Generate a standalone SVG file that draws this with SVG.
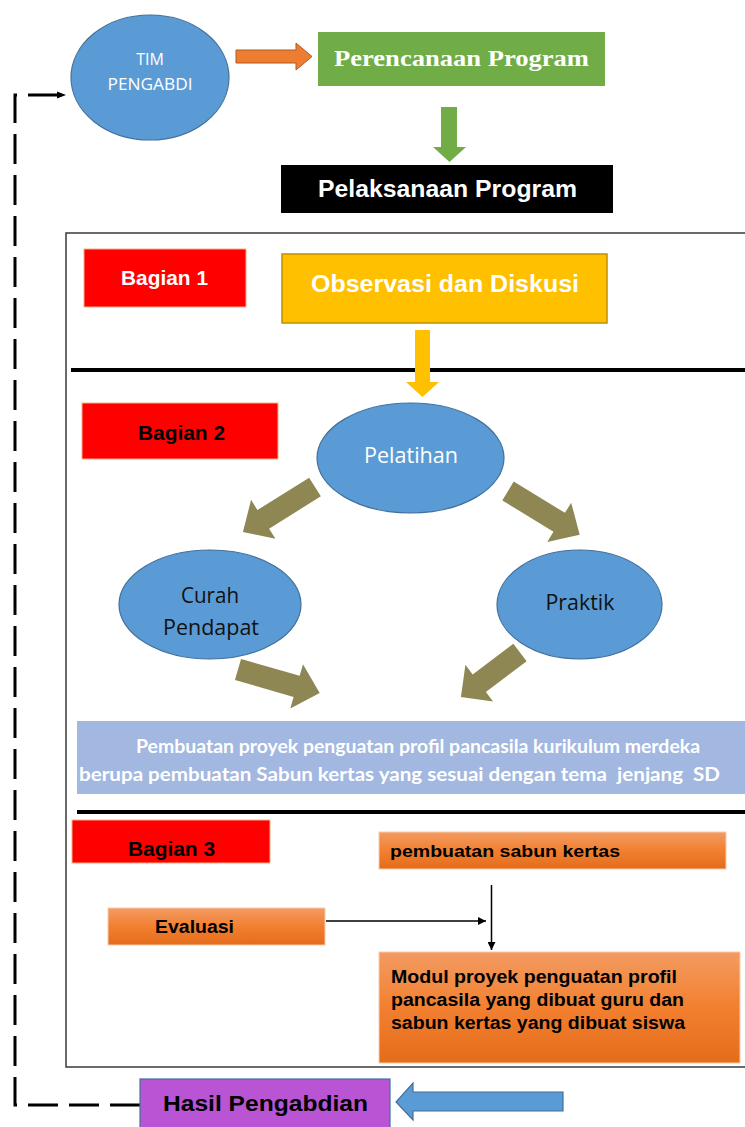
<svg xmlns="http://www.w3.org/2000/svg" width="745" height="1127" viewBox="0 0 745 1127">
<style>
.ar{font-family:"Liberation Sans",Arial,sans-serif;font-weight:bold}
.ca{font-family:Lato,"Liberation Sans",sans-serif}
.os{font-family:"Open Sans","Noto Sans",sans-serif}
.se{font-family:"Liberation Serif","Times New Roman",serif;font-weight:bold}
.wh{fill:#ffffff}
.bk{fill:#000000}
.ell{fill:#5B9BD5;stroke:#41719C;stroke-width:1.2}
.red{fill:#FF0000;stroke:#F4B183;stroke-width:1}
.org{fill:url(#og);stroke:#F8CBAD;stroke-width:1}
.olive{fill:#8F8753}
.thin{stroke:#000;stroke-width:1.5;fill:none}
</style>
<defs>
<linearGradient id="og" x1="0" y1="0" x2="0" y2="1">
<stop offset="0" stop-color="#F39B62"/>
<stop offset="0.5" stop-color="#F28030"/>
<stop offset="1" stop-color="#E46C1B"/>
</linearGradient>
<marker id="ah" viewBox="0 0 10 10" refX="10" refY="5" markerWidth="8" markerHeight="8" markerUnits="userSpaceOnUse" orient="auto">
<path d="M0,0 L10,5 L0,10 z" fill="#000"/>
</marker>
<marker id="ahd" viewBox="0 0 10 10" refX="10" refY="5" markerWidth="9" markerHeight="9" markerUnits="userSpaceOnUse" orient="auto">
<path d="M0,1 L10,5 L0,9 z" fill="#000"/>
</marker>
</defs>

<!-- container -->
<rect x="66" y="233" width="720" height="834" fill="none" stroke="#3A3A3A" stroke-width="1.5"/>
<line x1="71" y1="370" x2="745" y2="370" stroke="#000" stroke-width="4"/>
<line x1="77" y1="812" x2="745" y2="812" stroke="#000" stroke-width="4"/>

<g id="connectors">
<polygon points="236,50 296,50 296,43 312,56.5 296,70 296,63 236,63" fill="#ED7D31" stroke="#AE5A21" stroke-width="1"/>
<polygon points="441,107 457,107 457,147 466,147 449.5,162 433,147 441,147" fill="#70AD47"/>
<polygon points="415,330 430,330 430,382 439,382 422.5,397 406,382 415,382" fill="#FFC000"/>
<polygon class="olive" transform="translate(315,487) rotate(148)" points="0,-11 61,-11 61,-23 85,0 61,23 61,11 0,11"/>
<polygon class="olive" transform="translate(508,491) rotate(31.4)" points="0,-11 60,-11 60,-23 84,0 60,23 60,11 0,11"/>
<polygon class="olive" transform="translate(238,669.5) rotate(16)" points="0,-11 61,-11 61,-23 85,0 61,23 61,11 0,11"/>
<polygon class="olive" transform="translate(520,652.5) rotate(143)" points="0,-11 51,-11 51,-23 74,0 51,23 51,11 0,11"/>
<line class="thin" x1="326" y1="921" x2="486" y2="921" marker-end="url(#ah)"/>
<line class="thin" x1="491.5" y1="885" x2="491.5" y2="950" marker-end="url(#ah)"/>
<polygon points="563,1092 413,1092 413,1083 396,1102 413,1120 413,1111 563,1111" fill="#5B9BD5" stroke="#41719C" stroke-width="1.2"/>
<path d="M140,1105 H15 V95 H66" fill="none" stroke="#000" stroke-width="3" stroke-dasharray="30 11" marker-end="url(#ahd)"/>
</g>

<g id="tim">
<ellipse class="ell" cx="150" cy="77.5" rx="79" ry="62.5"/>
<text class="os wh" x="150" y="65" font-size="16" text-anchor="middle">TIM</text>
<text class="os wh" x="150" y="90" font-size="16" text-anchor="middle" textLength="85" lengthAdjust="spacingAndGlyphs">PENGABDI</text>
</g>

<g id="perencanaan">
<rect x="318" y="32" width="287" height="54" fill="#70AD47"/>
<text class="se wh" x="334" y="66" font-size="24" textLength="255" lengthAdjust="spacingAndGlyphs">Perencanaan Program</text>
</g>

<g id="pelaksanaan">
<rect x="281" y="165" width="332" height="48" fill="#000"/>
<text class="ar wh" x="318" y="197" font-size="23" textLength="259" lengthAdjust="spacingAndGlyphs">Pelaksanaan Program</text>
</g>

<g id="bagian1">
<rect class="red" x="84" y="249" width="162" height="58"/>
<text class="ar wh" x="121" y="285" font-size="20" textLength="87" lengthAdjust="spacingAndGlyphs">Bagian 1</text>
</g>

<g id="observasi">
<rect x="282" y="254" width="325" height="69" fill="#FFC000" stroke="#BF9000" stroke-width="1.5"/>
<text class="ar wh" x="311" y="292" font-size="23" textLength="268" lengthAdjust="spacingAndGlyphs">Observasi dan Diskusi</text>
</g>

<g id="bagian2">
<rect class="red" x="82" y="403" width="196" height="56"/>
<text class="ar bk" x="138" y="440" font-size="20" textLength="87" lengthAdjust="spacingAndGlyphs">Bagian 2</text>
</g>

<g id="pelatihan">
<ellipse class="ell" cx="410.5" cy="458" rx="93.5" ry="55"/>
<text class="os wh" x="411" y="463" font-size="21" text-anchor="middle" textLength="94" lengthAdjust="spacingAndGlyphs">Pelatihan</text>
</g>

<g id="curah">
<ellipse class="ell" cx="210" cy="604.5" rx="91" ry="54.5"/>
<text class="os" fill="#111" x="210" y="603" font-size="21" text-anchor="middle" textLength="58" lengthAdjust="spacingAndGlyphs">Curah</text>
<text class="os" fill="#111" x="211" y="635" font-size="21" text-anchor="middle" textLength="96" lengthAdjust="spacingAndGlyphs">Pendapat</text>
</g>

<g id="praktik">
<ellipse class="ell" cx="579.5" cy="604.5" rx="82.5" ry="54.5"/>
<text class="os" fill="#111" x="580" y="610" font-size="21" text-anchor="middle" textLength="69" lengthAdjust="spacingAndGlyphs">Praktik</text>
</g>

<g id="pembuatan-proyek">
<rect x="77" y="721" width="680" height="73" fill="#A2B8E1"/>
<text class="ca wh" x="136" y="753" font-size="19" font-weight="bold" textLength="564" lengthAdjust="spacingAndGlyphs">Pembuatan proyek penguatan profil pancasila kurikulum merdeka</text>
<text class="ca wh" x="79" y="781" font-size="19" font-weight="bold" style="white-space:pre" textLength="641" lengthAdjust="spacingAndGlyphs">berupa pembuatan Sabun kertas yang sesuai dengan tema  jenjang  SD</text>
</g>

<g id="bagian3">
<rect class="red" x="72" y="820" width="198" height="43"/>
<text class="ar bk" x="128" y="856" font-size="20" textLength="87" lengthAdjust="spacingAndGlyphs">Bagian 3</text>
</g>

<g id="pembuatan-sabun">
<rect class="org" x="379" y="832" width="347" height="37"/>
<text class="ar bk" x="390" y="857" font-size="17" textLength="230" lengthAdjust="spacingAndGlyphs">pembuatan sabun kertas</text>
</g>

<g id="evaluasi">
<rect class="org" x="108" y="908" width="217" height="37"/>
<text class="ar bk" x="155" y="933" font-size="18" textLength="79" lengthAdjust="spacingAndGlyphs">Evaluasi</text>
</g>

<g id="modul">
<rect class="org" x="379" y="952" width="361" height="111"/>
<text class="ar bk" x="391" y="983" font-size="18" textLength="286" lengthAdjust="spacingAndGlyphs">Modul proyek penguatan profil</text>
<text class="ar bk" x="391" y="1006" font-size="18" textLength="293" lengthAdjust="spacingAndGlyphs">pancasila yang dibuat guru dan</text>
<text class="ar bk" x="391" y="1029" font-size="18" textLength="294" lengthAdjust="spacingAndGlyphs">sabun kertas yang dibuat siswa</text>
</g>

<g id="hasil">
<rect x="140" y="1079" width="250" height="52" fill="#B955D4" stroke="#41719C" stroke-width="1.2"/>
<text class="ar bk" x="163" y="1111" font-size="22" textLength="205" lengthAdjust="spacingAndGlyphs">Hasil Pengabdian</text>
</g>
</svg>
